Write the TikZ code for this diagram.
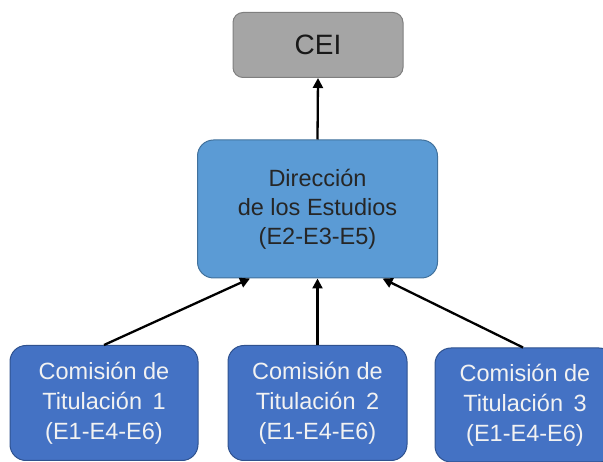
\documentclass[tikz,border=0pt]{standalone}
\usepackage{fontspec}
\setmainfont{Liberation Sans}
\usetikzlibrary{arrows.meta,calc}
\definecolor{ceifill}{HTML}{A5A5A5}
\definecolor{ceiline}{HTML}{7F7F7F}
\definecolor{dirfill}{HTML}{5B9BD5}
\definecolor{dirline}{HTML}{41719C}
\definecolor{comfill}{HTML}{4472C4}
\definecolor{comline}{HTML}{2F528F}
\tikzset{
  ceibox/.style={draw=ceiline, fill=ceifill, line width=1pt, rounded corners=10pt,
    minimum width=170pt, minimum height=65pt, inner sep=0pt,
    font=\fontsize{28}{33}\selectfont, text=black!90},
  dirbox/.style={draw=dirline, fill=dirfill, line width=1pt, rounded corners=16pt,
    minimum height=138pt, inner sep=0pt, align=center,
    font=\fontsize{23.5}{29}\selectfont, text=black!85},
  combox/.style={draw=comline, fill=comfill, line width=1pt, rounded corners=16pt,
    minimum height=115pt, inner sep=0pt, align=center,
    font=\fontsize{23.5}{30}\selectfont, text=white!95!black},
  conn/.style={-{Triangle[length=10pt,width=10pt]}, line width=2.3pt, black}
}
\begin{document}
\begin{tikzpicture}[x=1pt,y=-1pt]
\useasboundingbox (0,0) rectangle (603,462);
\clip (0,0) rectangle (603,462);
\node[ceibox] (cei) at (318,45) {CEI};
\node[dirbox, minimum width=240pt] (dir) at (317.5,209) {Dirección\\de los Estudios\\(E2-E3-E5)};
\node[combox, minimum width=188pt] (c1) at (104,403) {Comisión de\\Titulación\, 1\\(E1-E4-E6)};
\node[combox, minimum width=179pt] (c2) at (317.5,403) {Comisión de\\Titulación\, 2\\(E1-E4-E6)};
\node[combox, minimum width=180pt, minimum height=114pt] (c3) at (525,405) {Comisión de\\Titulación\, 3\\(E1-E4-E6)};
\draw[conn] (dir.north) -- (cei.south);
\draw[conn] (c1.north) -- ($(dir.south west)!0.22!(dir.south east)$);
\draw[conn] (c2.north) -- (dir.south);
\draw[conn] ($(c3.north)+(-2,0)$) -- ($(dir.south west)!0.77!(dir.south east)$);
\end{tikzpicture}
\end{document}
